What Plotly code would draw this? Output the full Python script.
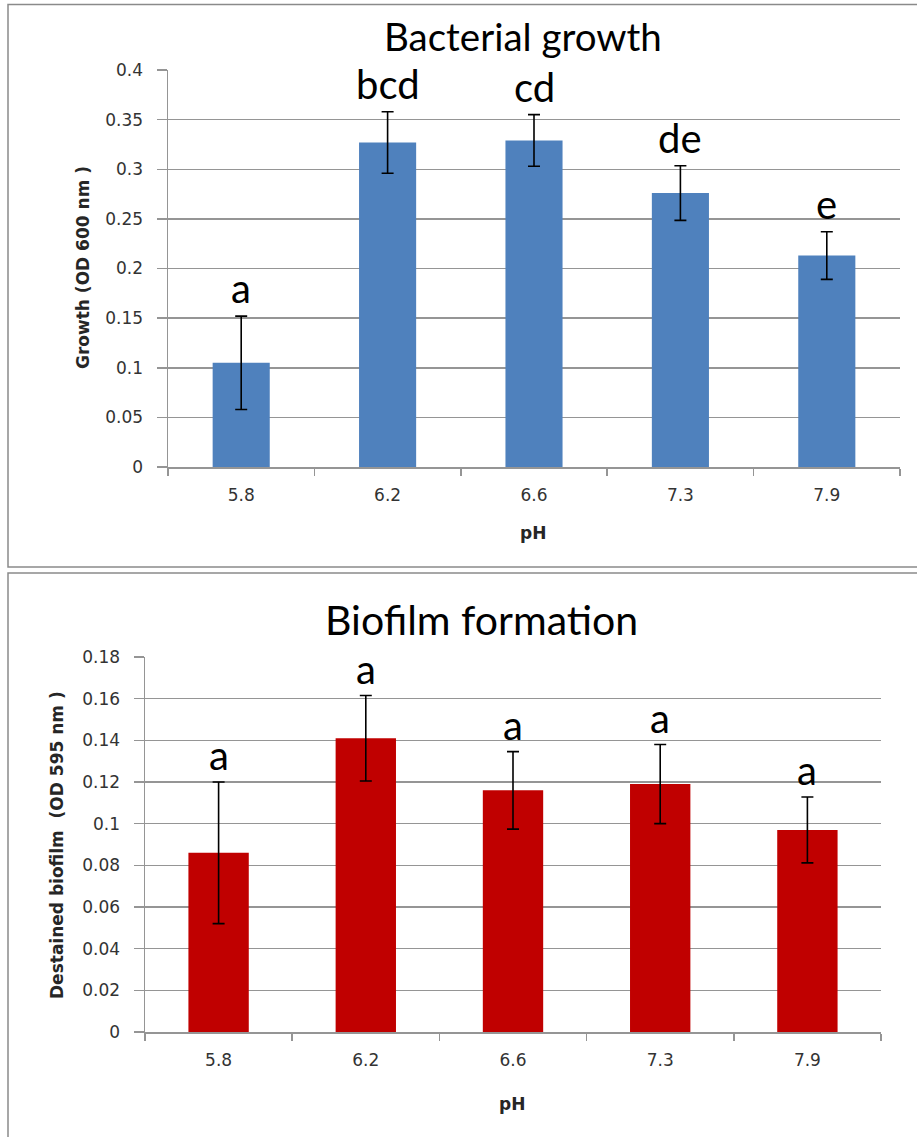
import plotly.graph_objects as go

W, H = 917, 1137

# ---- data ----
ph_labels = ["5.8", "6.2", "6.6", "7.3", "7.9"]

growth_mean = [0.105, 0.327, 0.329, 0.276, 0.213]
growth_err = [0.047, 0.031, 0.026, 0.0275, 0.024]
growth_letters = ["a", "bcd", "cd", "de", "e"]

biofilm_mean = [0.086, 0.141, 0.116, 0.119, 0.097]
biofilm_err = [0.034, 0.0205, 0.0186, 0.019, 0.0158]
biofilm_letters = ["a", "a", "a", "a", "a"]

growth_yticks = [0, 0.05, 0.1, 0.15, 0.2, 0.25, 0.3, 0.35, 0.4]
biofilm_yticks = [0, 0.02, 0.04, 0.06, 0.08, 0.1, 0.12, 0.14, 0.16, 0.18]


def px(x):
    return x / W


def py(y):
    return 1 - y / H


BLUE = "#4F81BD"
RED = "#C00000"
GRID = "#959595"
TICKFONT = dict(family="DejaVu Sans", size=17, color="#333333")
AXFONT = dict(family="DejaVu Sans", size=17, color="#262626")
CAL = "Lato"

fig = go.Figure()

fig.add_trace(go.Bar(
    x=ph_labels, y=growth_mean, width=0.39, marker=dict(color=BLUE, line=dict(width=0)),
    error_y=dict(type="data", array=growth_err, color="black", thickness=1.6, width=6),
    xaxis="x", yaxis="y", showlegend=False, hoverinfo="skip",
))
fig.add_trace(go.Bar(
    x=ph_labels, y=biofilm_mean, width=0.41, marker=dict(color=RED, line=dict(width=0)),
    error_y=dict(type="data", array=biofilm_err, color="black", thickness=1.6, width=6),
    xaxis="x2", yaxis="y2", showlegend=False, hoverinfo="skip",
))

n = len(ph_labels)
common_x = dict(type="category", showline=True, linecolor=GRID, linewidth=1.5,
                ticks="outside", ticklen=7, tickcolor=GRID, tickwidth=1.5,
                tickson="boundaries", showgrid=False, tickfont=TICKFONT,
                ticklabelstandoff=12, fixedrange=True, range=[-0.5, n - 0.5],
                categoryorder="array", categoryarray=ph_labels, automargin=False)
common_y = dict(showline=True, linecolor=GRID, linewidth=1.5, ticks="outside",
                ticklen=10, tickcolor=GRID, tickwidth=1.5, showgrid=True,
                gridcolor=GRID, gridwidth=1.5, zeroline=False, tickfont=TICKFONT,
                ticklabelstandoff=10, fixedrange=True, automargin=False)

fig.update_layout(
    template="none",
    width=W, height=H,
    autosize=False,
    margin=dict(l=0, r=0, t=0, b=0, pad=0),
    paper_bgcolor="white", plot_bgcolor="white",
    xaxis=dict(domain=[px(168), px(900)], anchor="y", **common_x),
    yaxis=dict(domain=[py(467), py(70)], anchor="x", range=[0, 0.4],
               tickvals=growth_yticks, ticktext=[f"{v:g}" for v in growth_yticks], **common_y),
    xaxis2=dict(domain=[px(145), px(881)], anchor="y2", **common_x),
    yaxis2=dict(domain=[py(1032), py(657)], anchor="x2", range=[0, 0.18],
                tickvals=biofilm_yticks, ticktext=[f"{v:g}" for v in biofilm_yticks], **common_y),
)

ann = []
# significance letters (x given as category index)
for i, (m, e, t) in enumerate(zip(growth_mean, growth_err, growth_letters)):
    ann.append(dict(x=i, y=m + e, xref="x", yref="y", text=t, showarrow=False,
                    yanchor="bottom", yshift=2, font=dict(family=CAL, size=40, color="black")))
for i, (m, e, t) in enumerate(zip(biofilm_mean, biofilm_err, biofilm_letters)):
    ann.append(dict(x=i, y=m + e, xref="x2", yref="y2", text=t, showarrow=False,
                    yanchor="bottom", yshift=1, font=dict(family=CAL, size=40, color="black")))

# titles
ann.append(dict(x=px(523), y=py(36), xref="paper", yref="paper", text="Bacterial growth",
                showarrow=False, xanchor="center", yanchor="middle",
                font=dict(family=CAL, size=38.5, color="black")))
ann.append(dict(x=px(481), y=py(619), xref="paper", yref="paper", text="Biofilm formation",
                showarrow=False, xanchor="center", yanchor="middle",
                font=dict(family=CAL, size=41, color="black")))

# axis titles
ann.append(dict(x=px(83), y=py(268), xref="paper", yref="paper", text="<b>Growth (OD 600 nm )</b>",
                showarrow=False, textangle=-90, xanchor="center", yanchor="middle", font=AXFONT))
ann.append(dict(x=px(57), y=py(845), xref="paper", yref="paper",
                text="<b>Destained biofilm\u00a0 (OD 595 nm )</b>",
                showarrow=False, textangle=-90, xanchor="center", yanchor="middle", font=AXFONT))
ann.append(dict(x=px(533), y=py(533), xref="paper", yref="paper", text="<b>pH</b>",
                showarrow=False, xanchor="center", yanchor="middle", font=AXFONT))
ann.append(dict(x=px(512), y=py(1104), xref="paper", yref="paper", text="<b>pH</b>",
                showarrow=False, xanchor="center", yanchor="middle", font=AXFONT))

fig.update_layout(annotations=ann)

# panel borders
fig.add_shape(type="rect", xref="paper", yref="paper", x0=px(8), x1=1.05, y0=py(567), y1=py(4.5),
              line=dict(color="#8a8a8a", width=1.5), fillcolor="rgba(0,0,0,0)", layer="below")
fig.add_shape(type="rect", xref="paper", yref="paper", x0=px(8), x1=1.05, y0=-0.05, y1=py(573),
              line=dict(color="#8a8a8a", width=1.5), fillcolor="rgba(0,0,0,0)", layer="below")

fig.write_html(
    "out.html",
    config={"displayModeBar": False, "staticPlot": True},
    post_script="document.body.style.margin='0';document.documentElement.style.overflow='hidden';",
)
